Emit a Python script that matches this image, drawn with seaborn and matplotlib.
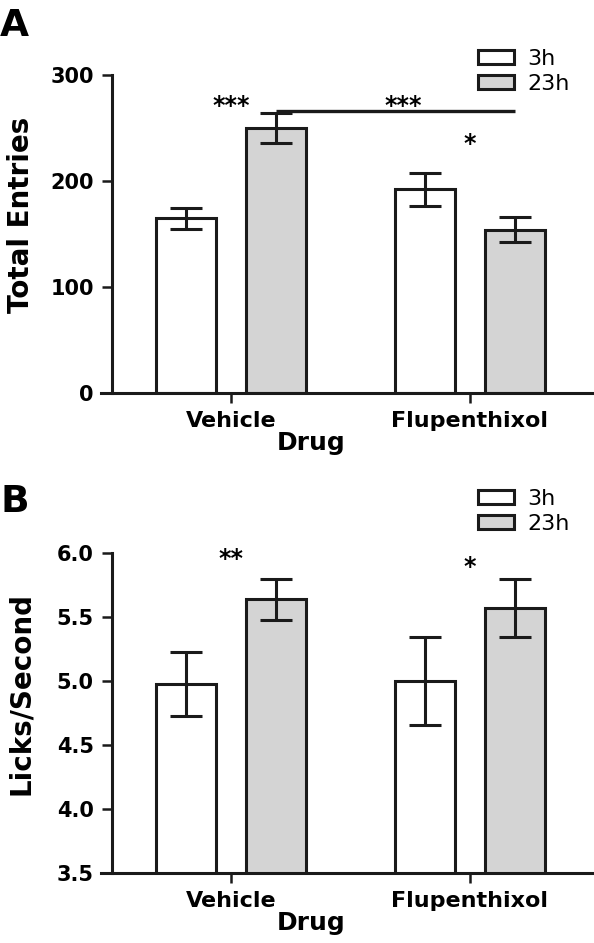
import pandas as pd
import seaborn as sns
import matplotlib.pyplot as plt
from matplotlib.patches import Patch

# Data (mean and SEM per bar)
drugs = ["Vehicle", "Flupenthixol"]
times = ["3h", "23h"]

entries_3h = [165, 192]
entries_23h = [250, 154]
entries_sem_3h = [10, 15.5]
entries_sem_23h = [14, 12]

licks_3h = [4.98, 5.00]
licks_23h = [5.64, 5.57]
licks_sem_3h = [0.25, 0.34]
licks_sem_23h = [0.16, 0.23]

df_a = pd.DataFrame({
    "drug": drugs * 2,
    "time": ["3h"] * 2 + ["23h"] * 2,
    "value": entries_3h + entries_23h,
    "sem": entries_sem_3h + entries_sem_23h,
})
df_b = pd.DataFrame({
    "drug": drugs * 2,
    "time": ["3h"] * 2 + ["23h"] * 2,
    "value": licks_3h + licks_23h,
    "sem": licks_sem_3h + licks_sem_23h,
})

sns.set_style("ticks")
edge = "#1a1a1a"
plt.rcParams["font.family"] = ["DejaVu Sans"]
plt.rcParams["text.color"] = "black"
plt.rcParams["axes.labelcolor"] = "black"
plt.rcParams["xtick.color"] = edge
plt.rcParams["ytick.color"] = edge
plt.rcParams["xtick.labelcolor"] = "black"
plt.rcParams["ytick.labelcolor"] = "black"

fills = {"3h": "white", "23h": "#d4d4d4"}
W, H = 594, 943

fig = plt.figure(figsize=(W / 100, H / 100), dpi=100)
ax_a = fig.add_axes([101 / W, 1 - 393 / H, 492 / W, 318 / H])
ax_b = fig.add_axes([101 / W, 1 - 873 / H, 492 / W, 320 / H])


def draw_panel(ax, df, ylim, yticks, yfmt, ylabel, ylabel_y, legend_top):
    sns.barplot(
        data=df, x="drug", y="value", hue="time",
        order=drugs, hue_order=times, palette=fills,
        edgecolor=edge, linewidth=2.2, width=0.75, gap=0.33,
        errorbar=None, legend=False, ax=ax,
    )
    # error bars on top of each bar
    for cont, t in zip(ax.containers, times):
        sems = df[df.time == t].set_index("drug").loc[drugs, "sem"].values
        for bar, s in zip(cont, sems):
            x = bar.get_x() + bar.get_width() / 2
            ax.errorbar(x, bar.get_height(), yerr=s, fmt="none", ecolor=edge,
                        elinewidth=2.2, capsize=11.5, capthick=2.2, zorder=5)

    ax.set_xlim(-0.544, 1.515)
    ax.set_ylim(*ylim)
    ax.set_yticks(yticks)
    ax.set_yticklabels([yfmt.format(v) for v in yticks])
    ax.spines[["top", "right"]].set_visible(False)
    ax.spines["left"].set_position(("data", -0.5))
    for s in ["left", "bottom"]:
        ax.spines[s].set_linewidth(2.2)
        ax.spines[s].set_color(edge)
    ax.tick_params(axis="both", direction="out", length=7.2, width=1.8,
                   color=edge, pad=5.5)
    ax.tick_params(axis="y", labelsize=15)
    ax.tick_params(axis="x", labelsize=16)
    for lab in ax.get_xticklabels() + ax.get_yticklabels():
        lab.set_fontweight("bold")

    ax.set_xlabel("Drug", fontsize=18, fontweight="bold")
    ax.xaxis.set_label_coords(0.427, -0.12)
    ax.set_ylabel(ylabel, fontsize=20, fontweight="bold")
    ax.yaxis.set_label_coords(-0.135, ylabel_y)

    handles = [Patch(facecolor=fills[t], edgecolor=edge, linewidth=2.2, label=t)
               for t in times]
    ax.legend(handles=handles, loc="upper left",
              bbox_to_anchor=(478 / W, 1 - legend_top / H),
              bbox_transform=fig.transFigure, frameon=False, fontsize=16,
              handlelength=1.6, handleheight=0.58, handletextpad=0.6,
              labelspacing=0.22, borderpad=0, borderaxespad=0)


draw_panel(ax_a, df_a, (0, 300), [0, 100, 200, 300], "{:.0f}",
           "Total Entries", 0.56, 49)
draw_panel(ax_b, df_b, (3.5, 6.0), [3.5, 4.0, 4.5, 5.0, 5.5, 6.0], "{:.1f}",
           "Licks/Second", 0.56, 489)

# significance marks, panel A
veh23 = ax_a.containers[1][0]
flu23 = ax_a.containers[1][1]
x0 = veh23.get_x() + veh23.get_width() / 2
x1 = flu23.get_x() + flu23.get_width() / 2
ax_a.plot([x0, x1], [266, 266], color=edge, lw=2.4, solid_capstyle="butt",
          clip_on=False)
star_kw = dict(ha="center", va="center", fontsize=17, fontweight="bold",
               color="black", clip_on=False)
ax_a.text(0, 271, "***", **star_kw)
ax_a.text(0.72, 271, "***", **star_kw)
ax_a.text(1.0, 235, "*", **star_kw)

# significance marks, panel B
ax_b.text(0, 5.95, "**", **star_kw)
ax_b.text(1.0, 5.89, "*", **star_kw)

fig.text(0.0, 1 - 8 / H, "A", fontsize=27, fontweight="bold", va="top", ha="left")
fig.text(0.0, 1 - 484 / H, "B", fontsize=27, fontweight="bold", va="top", ha="left")

fig.savefig("out.png", dpi=100)
